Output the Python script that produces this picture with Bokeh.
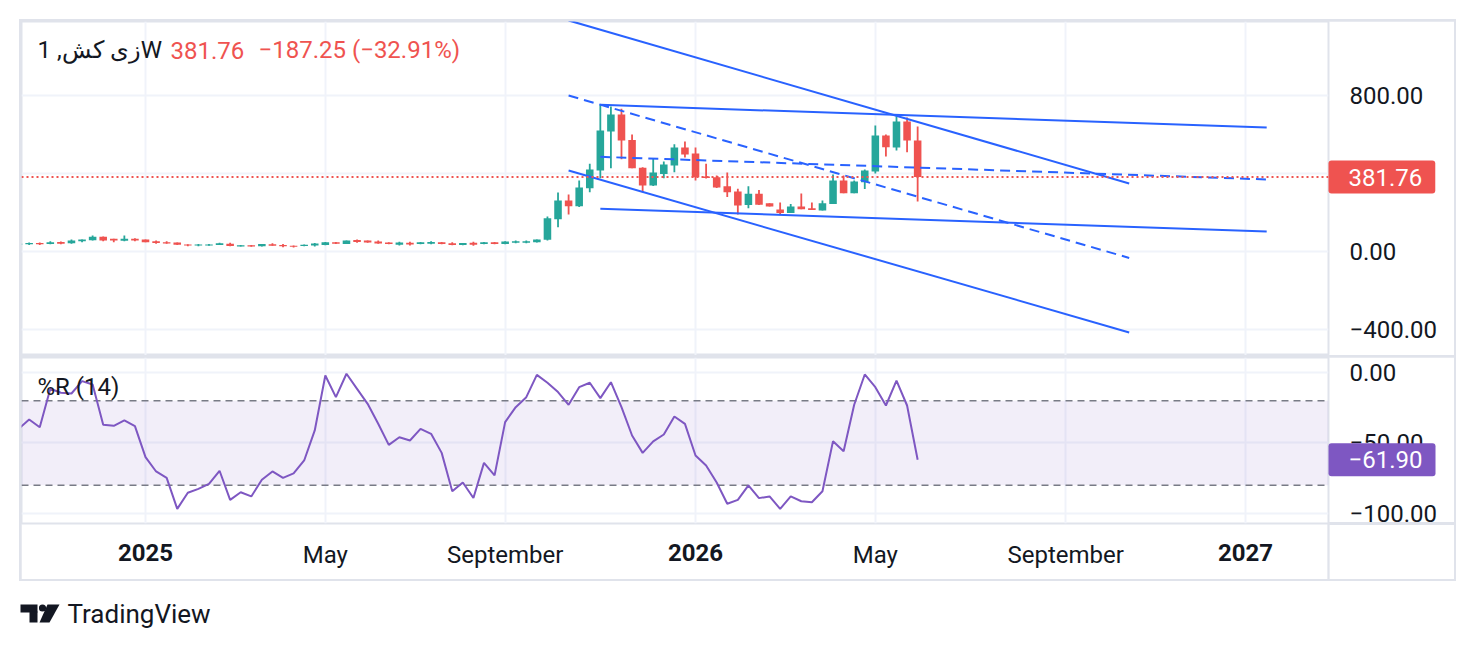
import numpy as np
import pandas as pd
from bokeh.plotting import figure
from bokeh.models import (Range1d, FixedTicker, Grid, Span, BoxAnnotation, Label, ColumnDataSource,
                          DatetimeAxis)
from bokeh.layouts import column
from bokeh.core.properties import value
from bokeh.embed import file_html
from bokeh.resources import INLINE

# ---------------- data (weekly bars, first bar week of 2024-10-07) ----------------
first_bar = "2024-10-07"
opens = [36, 37, 44, 38, 49, 42, 52, 58, 76, 65, 55, 65, 62, 52, 48, 46, 36, 31, 31, 34,
         40, 26, 32, 27, 37, 33, 30, 28, 31, 33, 48, 39, 59, 56, 51, 46, 35, 45, 38, 40,
         48, 42, 33, 45, 38, 48, 38, 45, 45, 47, 60, 166, 262, 232, 325, 415, 615, 702, 572, 430,
         338, 398, 441, 533, 502, 384, 381, 335, 308, 239, 296, 248, 215, 197, 231, 222, 210, 243, 364, 299,
         355, 410, 595, 533, 667, 569.01]
highs = [41, 46, 46, 52, 51, 62, 62, 82, 77, 66, 82, 68, 62, 56, 52, 46, 37, 38, 38, 45,
         45, 33, 33, 39, 42, 38, 31, 36, 44, 49, 49, 57, 62, 57, 56, 47, 50, 50, 49, 53,
         49, 48, 44, 50, 49, 49, 52, 56, 57, 62, 180, 303, 292, 364, 450, 752, 744, 732, 600, 432,
         478, 462, 550, 564, 533, 450, 390, 405, 322, 335, 316, 248, 251, 243, 297, 251, 262, 395, 390, 364,
         420, 646, 600, 694, 687, 641]
lows = [34, 33, 34, 37, 37, 40, 47, 57, 52, 48, 53, 52, 47, 40, 40, 34, 27, 27, 29, 33,
        27, 26, 25, 26, 29, 22, 20, 27, 26, 32, 39, 38, 45, 45, 40, 37, 31, 31, 37, 37,
        37, 32, 32, 29, 37, 37, 37, 42, 42, 46, 56, 125, 190, 228, 304, 376, 427, 473, 427, 304,
        336, 376, 407, 482, 364, 375, 326, 279, 190, 222, 238, 231, 190, 197, 217, 213, 210, 243, 299, 299,
        320, 400, 487, 518, 509, 256]
closes = [40, 44, 37, 48, 40, 57, 61, 76, 57, 56, 65, 56, 48, 44, 41, 35, 31, 36, 36, 42,
          28, 32, 26, 38, 30, 27, 24, 35, 41, 48, 40, 56, 49, 46, 41, 38, 46, 36, 48, 49,
          38, 33, 43, 35, 48, 38, 51, 53, 53, 61, 171, 262, 232, 328, 420, 620, 702, 569, 427, 338,
          405, 446, 533, 497, 381, 377, 328, 304, 236, 296, 240, 231, 197, 231, 217, 213, 248, 364, 299, 359,
          415, 595, 535, 667, 569.01, 381.76]
williams_r = [-40, -33.3, -38.8, -11.5, -14.4, -14.9, -6.1, -8.5, -37.1, -37.8,
              -34, -38, -60, -70.2, -74.7, -96.7, -85.3, -82.5, -79, -69.7,
              -90.3, -84.9, -87.9, -76.1, -70.2, -74.7, -71.6, -62.4, -41.1, -2.1,
              -17.5, -0.9, -11.6, -22.2, -36.4, -51.3, -45.9, -48.2, -40, -43.5,
              -57, -84.2, -78, -89, -64.1, -73, -35.2, -24.6, -17.5, -1.7,
              -7.3, -13.9, -22.9, -10.4, -7.3, -18.2, -6.9, -24.6, -44.7, -57,
              -48.9, -44, -31.2, -36.4, -58.9, -66, -78, -93.1, -90.3, -80.1,
              -89.1, -87.9, -96.7, -87.9, -91.3, -92, -84.2, -48.7, -55.8, -22.9,
              -1.4, -10.4, -23.4, -5.7, -23.4, -61.9]

month_tick_dates = ["2025-04-28", "2025-08-25", "2026-04-27", "2026-08-31"]
month_tick_labels = ["May", "September", "May", "September"]
year_tick_dates = ["2024-12-30", "2025-12-29", "2026-12-28"]
year_tick_labels = ["2025", "2026", "2027"]

price_ticks = [-400, 0, 400, 800]
price_tick_labels = ["\u2212400.00", "0.00", "", "800.00"]
wr_ticks = [0, -50, -100]
wr_tick_labels = ["0.00", "\u221250.00", "\u2212100.00"]
wr_upper_band = -20
wr_lower_band = -80

chan_a_dates = ["2025-10-06", "2026-10-12"]
chan_a_upper = [1185, 349]
chan_a_mid = [800, -33]
chan_a_lower = [415, -415]
chan_b_dates = ["2025-10-27", "2027-01-11"]
chan_b_upper = [752, 636]
chan_b_mid = [485.5, 369.5]
chan_b_lower = [219, 103]

symbol_title = "1 ," + "\u0632\u06cc \u06a9\u0634" + "W"
last_price = 381.76
change_abs = -187.25
change_pct = -32.91
last_wr = -61.90

# ---------------- styling ----------------
FONT = "Roboto"
FS = "24px"
GREEN = "#26a69a"
RED = "#ef5350"
BLUE = "#2962ff"
PURPLE = "#7e57c2"
GRID = "#f0f3fa"
BORDER = "#e0e3eb"
TEXT = "#131722"
BANDLINE = "#787b86"

FRAME_W = 1307
AXIS_W = 126
TAG_W = 107          # width of the last-value tag (sits next to the frame, before the axis)
LABEL_GAP = 21       # gap between frame edge and price labels


def ms(t):
    return pd.Timestamp(t).value / 1e6


anchor = pd.Timestamp("2024-12-30")
x_start = ms(anchor - pd.Timedelta(days=82.07))
x_end = ms(anchor + pd.Timedelta(days=782.9))
month_ms = [ms(t) for t in month_tick_dates]
year_ms = [ms(t) for t in year_tick_dates]
all_ms = sorted(month_ms + year_ms)

dates = pd.date_range(first_bar, periods=len(opens), freq="7D").values
o = np.array(opens, dtype=float)
c = np.array(closes, dtype=float)
h = np.array(highs, dtype=float)
l = np.array(lows, dtype=float)
up = c >= o


def candle_src(mask):
    return ColumnDataSource(dict(x=dates[mask], top=np.maximum(o, c)[mask], bottom=np.minimum(o, c)[mask],
                                 high=h[mask], low=l[mask]))


def style_axis(ax, ticks, labels, standoff, bold=False):
    ax.ticker = FixedTicker(ticks=ticks)
    ax.major_label_overrides = {t: s for t, s in zip(ticks, labels)}
    ax.axis_line_color = None
    ax.major_tick_line_color = None
    ax.minor_tick_line_color = None
    ax.major_tick_out = 0
    ax.major_tick_in = 0
    ax.major_label_standoff = standoff
    ax.major_label_text_font = FONT
    ax.major_label_text_font_size = FS
    ax.major_label_text_color = TEXT
    if bold:
        ax.major_label_text_font_style = "bold"


def tag(y, txt, color):
    return Label(x=x_end, y=y, text=txt, text_font=FONT, text_font_size=FS, text_color="white",
                 text_baseline="middle", text_align="left", background_fill_color=color,
                 padding=dict(left=20, right=13, top=8, bottom=8), border_radius=3)


def rule(x, y, align, baseline, pad):
    return Label(x=x, y=y, text=" ", text_font_size="1px", text_align=align, text_baseline=baseline,
                 background_fill_color=BORDER, padding=pad)


x_range = Range1d(x_start, x_end)

# ---------------- main price pane ----------------
p1 = figure(width=FRAME_W + AXIS_W, height=334, x_range=x_range, y_range=Range1d(-533.3, 1179.5),
            x_axis_location=None, y_axis_location="right",
            output_backend="svg", toolbar_location=None,
            min_border_left=0, min_border_right=AXIS_W, min_border_top=0, min_border_bottom=0,
            margin=(2, 2, 0, 2))
p1.outline_line_color = BORDER
p1.outline_line_width = 2
ax1 = p1.yaxis[0]
style_axis(ax1, price_ticks, price_tick_labels, LABEL_GAP - TAG_W)
p1.right = [tag(last_price, f"{last_price:.2f}", RED), ax1]
p1.ygrid.grid_line_color = GRID
p1.ygrid.grid_line_width = 2
p1.ygrid.ticker = FixedTicker(ticks=price_ticks)
for g in p1.xgrid:
    g.visible = False
p1.add_layout(Grid(dimension=0, ticker=FixedTicker(ticks=all_ms), grid_line_color=GRID, grid_line_width=2))

for mask, col in ((up, GREEN), (~up, RED)):
    s = candle_src(mask)
    p1.segment(x0="x", y0="high", x1="x", y1="low", source=s, line_color=col, line_width=1.8)
    p1.vbar(x="x", width=5 * 86400000, top="top", bottom="bottom", source=s, fill_color=col, line_color=None)

for d, ys, dash in ((chan_a_dates, chan_a_upper, "solid"), (chan_a_dates, chan_a_mid, "10 6"),
                    (chan_a_dates, chan_a_lower, "solid"), (chan_b_dates, chan_b_upper, "solid"),
                    (chan_b_dates, chan_b_mid, "10 6"), (chan_b_dates, chan_b_lower, "solid")):
    p1.line(x=pd.to_datetime(d).values, y=ys, line_color=BLUE, line_width=2, line_dash=dash)

p1.add_layout(Span(location=last_price, dimension="width", line_color=RED, line_width=2, line_dash="2 3"))

header_y = 1031
p1.add_layout(Label(x=x_start, y=header_y, x_offset=16, text=symbol_title, text_font=FONT, text_font_size=FS,
                    text_color=TEXT, text_baseline="middle", text_align="left"))
p1.add_layout(Label(x=x_start, y=header_y, x_offset=149, text=f"{last_price:.2f}", text_font=FONT,
                    text_font_size=FS, text_color=RED, text_baseline="middle", text_align="left"))
p1.add_layout(Label(x=x_start, y=header_y, x_offset=237,
                    text=f"\u2212{abs(change_abs):.2f} (\u2212{abs(change_pct):.2f}%)", text_font=FONT,
                    text_font_size=FS, text_color=RED, text_baseline="middle", text_align="left"))

# ---------------- Williams %R pane ----------------
wr_top, wr_bottom = 10.64, -107.1
p2 = figure(width=FRAME_W + AXIS_W, height=222, x_range=x_range, y_range=Range1d(wr_bottom, wr_top),
            x_axis_type="datetime", x_axis_location="below", y_axis_location="right",
            output_backend="svg", toolbar_location=None,
            min_border_left=0, min_border_right=AXIS_W, min_border_top=0, min_border_bottom=56,
            margin=(0, 2, 2, 2))
p2.outline_line_color = BORDER
p2.outline_line_width = 2
ax2 = p2.yaxis[0]
style_axis(ax2, wr_ticks, wr_tick_labels, LABEL_GAP - TAG_W - 2)
p2.right = [tag(last_wr, f"\u2212{abs(last_wr):.2f}", PURPLE),
            rule(x_end, wr_bottom, "center", "top", dict(left=1, right=1, top=0, bottom=57)),
            ax2]

rule_h = rule(x_end, wr_bottom, "left", "middle", dict(left=0, right=AXIS_W + 2, top=1, bottom=1))
xa_m = p2.xaxis[0]
style_axis(xa_m, month_ms, month_tick_labels, 14)
xa_y = DatetimeAxis()
style_axis(xa_y, year_ms, year_tick_labels, -28, bold=True)
p2.below = [rule_h, xa_m, xa_y]

p2.xgrid.ticker = FixedTicker(ticks=all_ms)
p2.xgrid.grid_line_color = GRID
p2.xgrid.grid_line_width = 2
p2.ygrid.ticker = FixedTicker(ticks=wr_ticks)
p2.ygrid.grid_line_color = GRID
p2.ygrid.grid_line_width = 2

p2.add_layout(BoxAnnotation(bottom=wr_lower_band, top=wr_upper_band, fill_color=PURPLE, fill_alpha=0.1,
                            line_color=None, level="underlay"))
for lvl in (wr_upper_band, wr_lower_band):
    p2.add_layout(Span(location=lvl, dimension="width", line_color=BANDLINE, line_width=1.6,
                       line_dash="7 5", level="underlay"))
p2.line(x=dates, y=williams_r, line_color=PURPLE, line_width=2)

p2.add_layout(Label(x=x_start, y=-10.6, x_offset=16, text="%R (14)", text_font=FONT, text_font_size=FS,
                    text_color=TEXT, text_baseline="middle", text_align="left"))

chart = column(p1, p2, spacing=2, margin=(19, 0, 0, 19), styles={"background-color": BORDER})

# ---------------- TradingView branding ----------------
p3 = figure(width=300, height=58, x_range=Range1d(0, 300), y_range=Range1d(0, 58),
            x_axis_location=None, y_axis_location=None, output_backend="svg", toolbar_location=None,
            min_border=0, margin=(0, 0, 0, 19))
p3.outline_line_color = None
p3.grid.visible = False
p3.quad(left=[1, 10], right=[18, 18], top=[35, 28], bottom=[27, 17], fill_color=TEXT, line_color=None)
p3.circle(x=[23], y=[31.5], radius=3.6, fill_color=TEXT, line_color=None)
p3.patch(x=[28, 40, 30, 20], y=[35, 35, 17, 17], fill_color=TEXT, line_color=None)
p3.text(x=[48], y=[26], text=["TradingView"], text_font=value(FONT), text_font_size="26px",
        text_color=TEXT, text_baseline="middle", text_align="left")

page = column(chart, p3, spacing=0)
open("out.html", "w").write(file_html(page, INLINE))
